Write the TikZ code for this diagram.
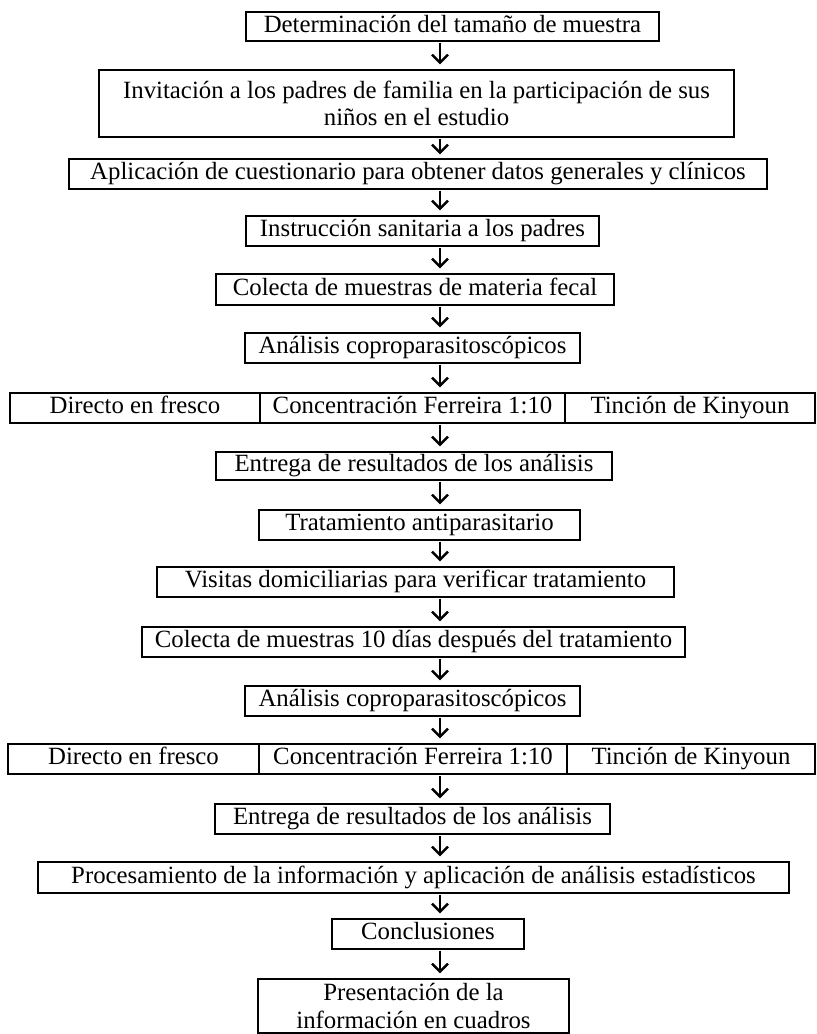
\documentclass[tikz,border=0pt]{standalone}
\usepackage{fontspec}
\setmainfont{Liberation Serif}
\usetikzlibrary{arrows.meta}
\tikzset{
  box/.style={draw=black, line width=1.1pt, inner sep=0pt, align=center,
    font=\fontsize{24.8}{27.5}\selectfont},
  onebox/.style={box, text height=17pt, text depth=5.5pt},
  arr/.style={line width=2.5pt, -{Straight Barb[length=8pt,width=16pt,line width=2.5pt]}}
}
\begin{document}
\begin{tikzpicture}[x=1pt,y=-1pt]
\fill[white] (0,0) rectangle (817,1034);
\useasboundingbox (0,0) rectangle (817,1034);
\coordinate (ax) at (440,0);
% boxes
\node[onebox, minimum width=413pt, minimum height=29pt] (n1) at (452.5,26.5) {Determinación del tamaño de muestra};
\node[box, minimum width=635pt, minimum height=67pt] (n2) at (416.5,103.5) {Invitación a los padres de familia en la participación de sus\\niños en el estudio};
\node[onebox, minimum width=698pt, minimum height=30pt] (n3) at (418,174) {Aplicación de cuestionario para obtener datos generales y clínicos};
\node[onebox, minimum width=353pt, minimum height=30pt] (n4) at (422.5,231) {Instrucción sanitaria a los padres};
\node[onebox, minimum width=398pt, minimum height=31pt] (n5) at (415,289.5) {Colecta de muestras de materia fecal};
\node[onebox, minimum width=335pt, minimum height=30pt] (n6) at (412.5,348) {Análisis coproparasitoscópicos};
\node[onebox, minimum width=250pt, minimum height=30pt] (n7a) at (135,408) {Directo en fresco};
\node[onebox, minimum width=305pt, minimum height=30pt] (n7b) at (412.5,408) {Concentración Ferreira 1:10};
\node[onebox, minimum width=250pt, minimum height=30pt] (n7c) at (690,408) {Tinción de Kinyoun};
\node[onebox, minimum width=396pt, minimum height=28pt] (n8) at (414,466) {Entrega de resultados de los análisis};
\node[onebox, minimum width=321pt, minimum height=30pt] (n9) at (419.5,525) {Tratamiento antiparasitario};
\node[onebox, minimum width=517pt, minimum height=30pt] (n10) at (415.5,582) {Visitas domiciliarias para verificar tratamiento};
\node[onebox, minimum width=543pt, minimum height=30pt] (n11) at (413.5,642) {Colecta de muestras 10 días después del tratamiento};
\node[onebox, minimum width=335pt, minimum height=30pt] (n12) at (412.5,701) {Análisis coproparasitoscópicos};
\node[onebox, minimum width=251pt, minimum height=30pt] (n13a) at (133.5,759) {Directo en fresco};
\node[onebox, minimum width=308pt, minimum height=30pt] (n13b) at (413,759) {Concentración Ferreira 1:10};
\node[onebox, minimum width=248pt, minimum height=30pt] (n13c) at (691,759) {Tinción de Kinyoun};
\node[onebox, minimum width=395pt, minimum height=30pt] (n14) at (412.5,819) {Entrega de resultados de los análisis};
\node[onebox, minimum width=751pt, minimum height=31pt] (n15) at (413.5,877.5) {Procesamiento de la información y aplicación de análisis estadísticos};
\node[onebox, minimum width=192pt, minimum height=30pt] (n16) at (428,934) {Conclusiones};
\node[box, minimum width=311pt, minimum height=54pt] (n17) at (413.5,1006) {Presentación de la\\información en cuadros};
% arrows
\draw[arr] ([yshift=-1pt]n1.south -| ax) -- ([yshift=5pt]n2.north -| ax);
\draw[arr] ([yshift=-1pt]n2.south -| ax) -- ([yshift=4pt]n3.north -| ax);
\draw[arr] ([yshift=-1pt]n3.south -| ax) -- ([yshift=5pt]n4.north -| ax);
\draw[arr] ([yshift=-1pt]n4.south -| ax) -- ([yshift=5pt]n5.north -| ax);
\draw[arr] ([yshift=-1pt]n5.south -| ax) -- ([yshift=5pt]n6.north -| ax);
\draw[arr] ([yshift=-1pt]n6.south -| ax) -- ([yshift=5pt]n7b.north -| ax);
\draw[arr] ([yshift=-1pt]n7b.south -| ax) -- ([yshift=5pt]n8.north -| ax);
\draw[arr] ([yshift=-1pt]n8.south -| ax) -- ([yshift=5pt]n9.north -| ax);
\draw[arr] ([yshift=-1pt]n9.south -| ax) -- ([yshift=5pt]n10.north -| ax);
\draw[arr] ([yshift=-1pt]n10.south -| ax) -- ([yshift=5pt]n11.north -| ax);
\draw[arr] ([yshift=-1pt]n11.south -| ax) -- ([yshift=5pt]n12.north -| ax);
\draw[arr] ([yshift=-1pt]n12.south -| ax) -- ([yshift=5pt]n13b.north -| ax);
\draw[arr] ([yshift=-1pt]n13b.south -| ax) -- ([yshift=5pt]n14.north -| ax);
\draw[arr] ([yshift=-1pt]n14.south -| ax) -- ([yshift=5pt]n15.north -| ax);
\draw[arr] ([yshift=-1pt]n15.south -| ax) -- ([yshift=5pt]n16.north -| ax);
\draw[arr] ([yshift=-1pt]n16.south -| ax) -- ([yshift=5pt]n17.north -| ax);
\end{tikzpicture}
\end{document}
